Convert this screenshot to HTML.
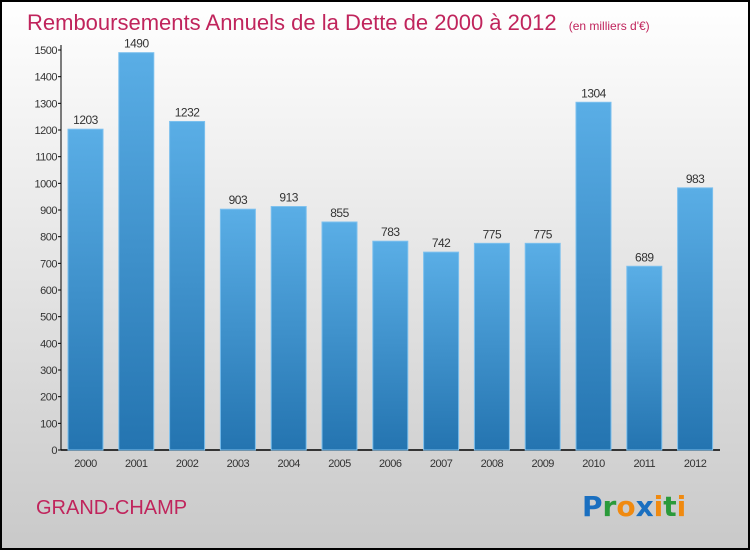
<!DOCTYPE html>
<html><head><meta charset="utf-8"><style>
body{margin:0;width:750px;height:550px;overflow:hidden;font-family:"Liberation Sans",sans-serif}
</style></head><body>
<svg width="750" height="550" id="c">
<defs>
<linearGradient id="bg" x1="0" y1="0" x2="0" y2="1"><stop offset="0" stop-color="#ffffff"/><stop offset="1" stop-color="#c9c9c9"/></linearGradient>
<linearGradient id="bar" x1="0" y1="0" x2="0" y2="1"><stop offset="0" stop-color="#5aaee6"/><stop offset="1" stop-color="#2474b0"/></linearGradient>
</defs>
<rect x="1" y="1" width="748" height="548" fill="url(#bg)" stroke="#000" stroke-width="2"/>
<text x="27" y="30" font-size="22" fill="#c0245c">Remboursements Annuels de la Dette de 2000 à 2012 <tspan font-size="12" dx="6">(en milliers d'€)</tspan></text>
<g id="axes"></g><g id="bars"></g>
<text x="36" y="514" font-size="20" fill="#c0245c">GRAND-CHAMP</text>
<text x="582" y="516" font-size="28" font-weight="bold" font-family="DejaVu Sans, sans-serif"><tspan fill="#1a6fc0">P</tspan><tspan fill="#2a9a3a">r</tspan><tspan fill="#f08a10">o</tspan><tspan fill="#1a6fc0">x</tspan><tspan fill="#f08a10">i</tspan><tspan fill="#2a9a3a">t</tspan><tspan fill="#f08a10">i</tspan></text>
</svg>
<script>
const categories=["2000","2001","2002","2003","2004","2005","2006","2007","2008","2009","2010","2011","2012"];
const values=[1203,1490,1232,903,913,855,783,742,775,775,1304,689,983];
const yTicks=[0,100,200,300,400,500,600,700,800,900,1000,1100,1200,1300,1400,1500];
const NS="http://www.w3.org/2000/svg";
const y=v=>450-v*400/1500;
const x=i=>68+i*50.8;
function mk(t,a,p){const e=document.createElementNS(NS,t);for(const k in a)e.setAttribute(k,a[k]);p.appendChild(e);return e;}
const ax=document.getElementById('axes'),bs=document.getElementById('bars');
let l=mk('line',{x1:61,y1:45,x2:61,y2:450,stroke:'#000'},ax);


l=mk('line',{x1:61,y1:450,x2:720,y2:450,stroke:'#000','stroke-width':1.5},ax);


yTicks.forEach(t=>{
 const tk=mk('line',{x1:58,x2:61,y1:y(t),y2:y(t),stroke:'#000'},ax);
 
 
 const tx=mk('text',{x:57,y:y(t)+4,'font-size':11,'text-anchor':'end',fill:'#333','letter-spacing':'-0.5'},ax);
 tx.textContent=t;
 
 
});
categories.forEach((c,i)=>{
 const r=mk('rect',{x:x(i),y:y(values[i]),width:35,height:450-y(values[i]),fill:'url(#bar)',stroke:'#7cc0ee','stroke-width':1},bs);
 
 
 const v=mk('text',{x:x(i)+17.5,y:y(values[i])-5,'font-size':12,'text-anchor':'middle',fill:'#333','letter-spacing':'-0.5'},bs);
 v.textContent=values[i];
 
 
 const xl=mk('text',{x:x(i)+17.5,y:467,'font-size':11,'text-anchor':'middle',fill:'#333','letter-spacing':'-0.5'},bs);
 xl.textContent=c;
 
 
});
</script>
</body></html>
